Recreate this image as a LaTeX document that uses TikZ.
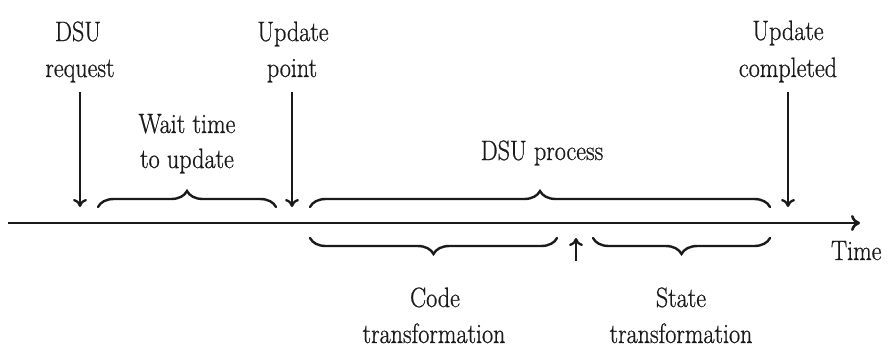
\documentclass[tikz,border=0pt]{standalone}
\usepackage{fontspec}
\setmainfont{Latin Modern Roman}[FakeBold=0.8]
\usetikzlibrary{arrows.meta,decorations.pathreplacing}
\definecolor{ink}{HTML}{1A1A1A}
\tikzset{
  lbl/.style={anchor=base, inner sep=1pt, text=ink, xscale=0.86,
    font=\fontsize{28}{36}\selectfont\addfontfeature{FakeBold=0.8}},
  arr/.style={draw=ink, line width=2.3pt,
    -{Computer Modern Rightarrow[length=8pt,width=14pt,line width=2.3pt]}},
  axis/.style={draw=ink, line width=2.8pt,
    -{Computer Modern Rightarrow[length=9pt,width=16pt,line width=2.6pt]}},
  bracetop/.style={draw=ink, line width=2.4pt, line cap=round,
    decorate, decoration={brace, amplitude=16pt}},
  bracebot/.style={draw=ink, line width=2.4pt, line cap=round,
    decorate, decoration={brace, amplitude=16pt, mirror}}
}
\begin{document}
\begin{tikzpicture}[x=1pt,y=1pt]
\useasboundingbox (0,0) rectangle (888,-348);
% labels
\node[lbl] (dsu1) at (78,-41) {DSU};
\node[lbl] (dsu2) at (80,-77) {request};
\node[lbl] (up1) at (293,-41) {Update};
\node[lbl] (up2) at (292,-77) {point};
\node[lbl] (uc1) at (788,-40) {Update};
\node[lbl] (uc2) at (788,-77) {completed};
\node[lbl] (wt1) at (187,-133) {Wait time};
\node[lbl] (wt2) at (187,-168) {to update};
\node[lbl] (dp) at (542,-160) {DSU process};
\node[lbl] (ct1) at (435,-307) {Code};
\node[lbl] (ct2) at (434,-343) {transformation};
\node[lbl] (st1) at (681,-307) {State};
\node[lbl] (st2) at (681,-343) {transformation};
\node[lbl, anchor=base west] (time) at (830,-260) {Time};
% timeline
\coordinate (t0) at (8,-223);
\coordinate (t1) at (860,-223);
\draw[axis] (t0) -- (t1);
% arrow endpoints
\coordinate (a1s) at (80,-92);  \coordinate (a1e) at (80,-207);
\coordinate (a2s) at (292,-92); \coordinate (a2e) at (292,-207);
\coordinate (a3s) at (788,-92); \coordinate (a3e) at (788,-207);
\coordinate (a4s) at (576,-261); \coordinate (a4e) at (576,-238);
\draw[arr] (a1s) -- (a1e);
\draw[arr] (a2s) -- (a2e);
\draw[arr] (a3s) -- (a3e);
\draw[arr] (a4s) -- (a4e);
% braces
\coordinate (b1s) at (98,-207);  \coordinate (b1e) at (276,-207);
\coordinate (b2s) at (310,-207); \coordinate (b2e) at (770,-207);
\coordinate (b3s) at (310,-238); \coordinate (b3e) at (557,-238);
\coordinate (b4s) at (593,-238); \coordinate (b4e) at (770,-238);
\draw[bracetop] (b1s) -- (b1e);
\draw[bracetop] (b2s) -- (b2e);
\draw[bracebot] (b3s) -- (b3e);
\draw[bracebot] (b4s) -- (b4e);
\end{tikzpicture}
\end{document}
